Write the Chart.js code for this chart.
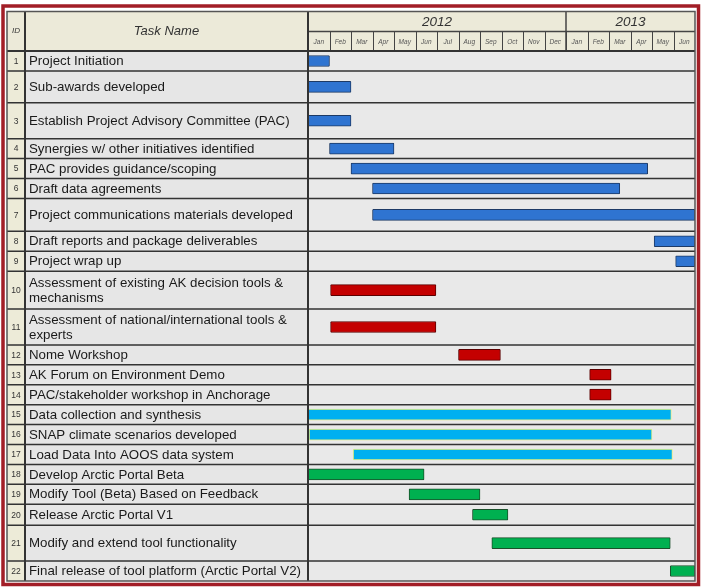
<!DOCTYPE html>
<html>
<head>
<meta charset="utf-8">
<script src="https://cdn.jsdelivr.net/npm/chart.js@4/dist/chart.umd.min.js"></script>
<style>
  html, body { margin: 0; padding: 0; background: #fff; }
  canvas { display: block; }
</style>
</head>
<body>
<canvas id="gantt" width="702" height="587"></canvas>
<script>
// tasks (months counted from Jan 2012 = 0)
const taskIds = [1, 2, 3, 4, 5, 6, 7, 8, 9, 10, 11, 12, 13, 14, 15, 16, 17, 18, 19, 20, 21, 22];
const taskNames = [
  'Project Initiation',
  'Sub-awards developed',
  'Establish Project Advisory Committee (PAC)',
  'Synergies w/ other initiatives identified',
  'PAC provides guidance/scoping',
  'Draft data agreements',
  'Project communications materials developed',
  'Draft reports and package deliverables',
  'Project wrap up',
  'Assessment of existing AK decision tools &\nmechanisms',
  'Assessment of national/international tools &\nexperts',
  'Nome Workshop',
  'AK Forum on Environment Demo',
  'PAC/stakeholder workshop in Anchorage',
  'Data collection and synthesis',
  'SNAP climate scenarios developed',
  'Load Data Into AOOS data system',
  'Develop Arctic Portal Beta',
  'Modify Tool (Beta) Based on Feedback',
  'Release Arctic Portal V1',
  'Modify and extend tool functionality',
  'Final release of tool platform (Arctic Portal V2)'
];
const taskStart = [0, 0, 0, 1, 2, 3, 3, 16.1, 17.1, 1.05, 1.05, 7, 13.1, 13.1, 0, 0.05, 2.1, 0, 4.7, 7.65, 8.55, 16.85];
const taskEnd   = [1, 2, 2, 4, 15.8, 14.5, 18, 18, 18, 5.95, 5.95, 8.95, 14.1, 14.1, 16.9, 16, 16.95, 5.4, 8, 9.3, 16.85, 18];
const taskGroup = ['plan', 'plan', 'plan', 'plan', 'plan', 'plan', 'plan', 'plan', 'plan',
  'review', 'review', 'review', 'review', 'review',
  'data', 'data', 'data',
  'tool', 'tool', 'tool', 'tool', 'tool'];

const yearLabels = ['2012', '2013'];
const yearMonths = [12, 6];
const monthLabels = ['Jan', 'Feb', 'Mar', 'Apr', 'May', 'Jun', 'Jul', 'Aug', 'Sep', 'Oct', 'Nov', 'Dec',
  'Jan', 'Feb', 'Mar', 'Apr', 'May', 'Jun'];

// layout: relative height of each table row
const rowSpan = [1, 1.6, 1.8, 1, 1, 1, 1.65, 1, 1, 1.9, 1.8, 1, 1, 1, 1, 1, 1, 1, 1, 1.05, 1.8, 1];

const groupFill = { plan: '#2f74d1', review: '#c40000', data: '#00b0f0', tool: '#00b050' };
const groupEdge = { plan: '#1d3a66', review: '#5c0000', data: '#e8f07c', tool: '#1a4f2a' };

const rowTop = [];
let acc = 0;
rowSpan.forEach(s => { rowTop.push(acc); acc += s; });
const totalSpan = acc;
const rowMid = rowTop.map((t, i) => t + rowSpan[i] / 2);

const FONT = '"Liberation Sans", Arial, sans-serif';
const colId = 7, colName = 25, headTop = 11.5, yearBottom = 31.5;

const tablePlugin = {
  id: 'ganttTable',
  beforeDraw(chart) {
    const { ctx, chartArea: a, scales: { x, y } } = chart;
    ctx.save();
    ctx.fillStyle = '#fff';
    ctx.fillRect(0, 0, chart.width, chart.height);

    // red frame
    ctx.strokeStyle = '#a21e27';
    ctx.lineWidth = 3.5;
    ctx.strokeRect(3, 6, 695.5, 578.5);

    // header and body fills
    ctx.fillStyle = '#ecead9';
    ctx.fillRect(colId, headTop, a.right - colId, a.top - headTop);
    ctx.fillStyle = '#edebd8';
    ctx.fillRect(colId, a.top, colName - colId, a.bottom - a.top);
    ctx.fillStyle = '#e6e6e6';
    ctx.fillRect(colName, a.top, a.left - colName, a.bottom - a.top);
    ctx.fillStyle = '#e9e9e9';
    ctx.fillRect(a.left, a.top, a.right - a.left, a.bottom - a.top);

    // month grid in header
    ctx.strokeStyle = '#444';
    ctx.lineWidth = 1;
    for (let m = 1; m < monthLabels.length; m++) {
      const px = Math.round(x.getPixelForValue(m)) + 0.5;
      ctx.beginPath();
      ctx.moveTo(px, yearBottom);
      ctx.lineTo(px, a.top);
      ctx.stroke();
    }
    ctx.lineWidth = 1.5;
    ctx.beginPath();
    ctx.moveTo(a.left, yearBottom);
    ctx.lineTo(a.right, yearBottom);
    let m0 = 0;
    yearMonths.forEach((n, i) => {
      if (i > 0) {
        const px = x.getPixelForValue(m0);
        ctx.moveTo(px, headTop);
        ctx.lineTo(px, a.top);
      }
      m0 += n;
    });
    ctx.stroke();

    // row lines
    ctx.strokeStyle = '#333';
    ctx.lineWidth = 1.5;
    ctx.beginPath();
    rowTop.forEach((t, i) => {
      const py = y.getPixelForValue(t);
      ctx.moveTo(colId, py);
      ctx.lineTo(a.right, py);
    });
    ctx.stroke();

    // header text
    ctx.fillStyle = '#333';
    ctx.textAlign = 'center';
    ctx.textBaseline = 'middle';
    ctx.font = 'italic 8px ' + FONT;
    ctx.fillText('ID', (colId + colName) / 2, (headTop + a.top) / 2);
    ctx.font = 'italic 13px ' + FONT;
    ctx.fillText('Task Name', (colName + a.left) / 2, (headTop + a.top) / 2);
    ctx.font = 'italic 13.5px ' + FONT;
    m0 = 0;
    yearMonths.forEach((n, i) => {
      const cx = (x.getPixelForValue(m0) + x.getPixelForValue(m0 + n)) / 2;
      ctx.fillText(yearLabels[i], cx, (headTop + yearBottom) / 2 + 1);
      m0 += n;
    });
    ctx.fillStyle = '#555';
    ctx.font = 'italic 6.5px ' + FONT;
    monthLabels.forEach((lab, m) => {
      ctx.fillText(lab, x.getPixelForValue(m + 0.5), (yearBottom + a.top) / 2 + 1);
    });

    // id and task name cells
    taskNames.forEach((name, i) => {
      const cy = y.getPixelForValue(rowMid[i]);
      ctx.fillStyle = '#333';
      ctx.textAlign = 'center';
      ctx.font = '8.5px ' + FONT;
      ctx.fillText(String(taskIds[i]), (colId + colName) / 2, cy + 0.5);
      ctx.fillStyle = '#1a1a1a';
      ctx.textAlign = 'left';
      ctx.font = '13.3px ' + FONT;
      const lines = name.split('\n');
      const lh = 15;
      lines.forEach((ln, k) => {
        ctx.fillText(ln, colName + 4, cy + (k - (lines.length - 1) / 2) * lh + 0.5);
      });
    });
    ctx.restore();
  },
  afterDraw(chart) {
    const { ctx, chartArea: a } = chart;
    ctx.save();
    ctx.strokeStyle = '#333';
    ctx.lineWidth = 2;
    ctx.beginPath();
    ctx.moveTo(colName, headTop);
    ctx.lineTo(colName, a.bottom);
    ctx.moveTo(a.left, headTop);
    ctx.lineTo(a.left, a.bottom);
    ctx.moveTo(colId, a.top);
    ctx.lineTo(a.right, a.top);
    ctx.stroke();
    ctx.strokeStyle = '#555';
    ctx.lineWidth = 1.5;
    ctx.strokeRect(colId, headTop, a.right - colId, a.bottom - headTop);
    ctx.restore();
  }
};

new Chart(document.getElementById('gantt'), {
  type: 'bar',
  data: {
    datasets: [{
      data: taskNames.map((n, i) => ({ x: [taskStart[i], taskEnd[i]], y: rowMid[i] })),
      backgroundColor: taskGroup.map(g => groupFill[g]),
      borderColor: taskGroup.map(g => groupEdge[g]),
      borderWidth: 1,
      borderSkipped: false,
      borderRadius: 1,
      barThickness: 11
    }]
  },
  options: {
    indexAxis: 'y',
    responsive: false,
    animation: false,
    layout: { padding: { left: 308, right: 7, top: 51, bottom: 6 } },
    scales: {
      x: { type: 'linear', min: 0, max: monthLabels.length, offset: false, display: false },
      y: { type: 'linear', min: 0, max: totalSpan, reverse: true, offset: false, display: false }
    },
    plugins: {
      legend: { display: false },
      tooltip: { enabled: false }
    }
  },
  plugins: [tablePlugin]
});
</script>
</body>
</html>
